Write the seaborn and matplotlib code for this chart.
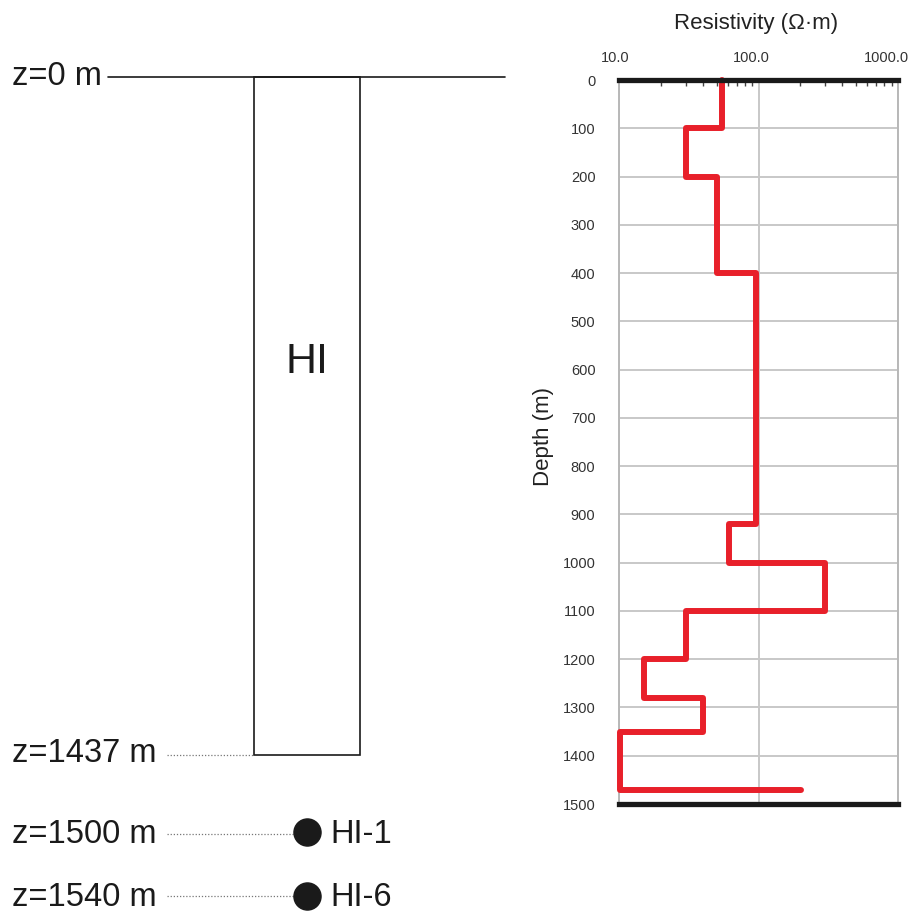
import numpy as np
import pandas as pd
import matplotlib
matplotlib.use("Agg")
import matplotlib.pyplot as plt
import matplotlib.transforms as mtransforms
from matplotlib.ticker import FixedLocator, FixedFormatter, NullFormatter, LogLocator
import seaborn as sns

# ---- resistivity model (layered, depth in m, resistivity in ohm-m) ----
layer_top = [0, 100, 200, 400, 920, 1000, 1100, 1200, 1280, 1350]
layer_bottom = [100, 200, 400, 920, 1000, 1100, 1200, 1280, 1350, 1470]
resistivity = [55, 30, 50, 96, 61, 300, 30, 15, 40, 10.2]
halfspace_resistivity = 203

depth_ticks = list(range(0, 1501, 100))
res_ticks = [10, 100, 1000]
res_tick_labels = ["10.0", "100.0", "1000.0"]

# ---- well schematic ----
well_name = "HI"
level_labels = ["z=0 m", "z=1437 m", "z=1500 m", "z=1540 m"]
sample_names = ["HI-1", "HI-6"]

sns.set_style("white")
plt.rcParams["font.family"] = ["Liberation Sans", "DejaVu Sans"]

W, H = 911, 913
fig = plt.figure(figsize=(W / 100, H / 100), dpi=100)

# schematic axes in pixel units (y down)
ax0 = fig.add_axes([0, 0, 1, 1], zorder=0)
ax0.set_xlim(0, W)
ax0.set_ylim(H, 0)
ax0.axis("off")

# surface line and borehole box
ax0.plot([108, 505], [77, 77], color="#1a1a1a", lw=1.2)
ax0.add_patch(plt.Rectangle((254, 77), 106, 678, fill=False,
                            edgecolor="#1a1a1a", lw=1.2))
ax0.text(307, 373, well_name, fontsize=31, ha="center", va="baseline",
         color="#1a1a1a")

txt_kw = dict(fontsize=23.5, ha="left", va="baseline", color="#1a1a1a")
ax0.text(12, 85, level_labels[0], **txt_kw)
ax0.text(12, 762, level_labels[1], **txt_kw)
ax0.text(12, 843, level_labels[2], **txt_kw)
ax0.text(12, 906, level_labels[3], **txt_kw)

dot_kw = dict(color="#777777", lw=0.9, ls=(0, (1, 1.5)))
ax0.plot([167, 254], [755, 755], **dot_kw)
ax0.plot([167, 294], [834, 834], **dot_kw)
ax0.plot([167, 294], [896, 896], **dot_kw)

ax0.plot([307, 307], [832.5, 896], ls="none", marker="o", ms=19.5,
         color="#1a1a1a")
ax0.text(330, 843, sample_names[0], **txt_kw)
ax0.text(330, 906, sample_names[1], **txt_kw)

# ---- resistivity log ----
x0, x1, y0, y1 = 619, 898, 80, 804
ax = fig.add_axes([x0 / W, 1 - y1 / H, (x1 - x0) / W, (y1 - y0) / H], zorder=2)

res_path, depth_path = [], []
for top, bot, r in zip(layer_top, layer_bottom, resistivity):
    res_path += [r, r]
    depth_path += [top, bot]
res_path.append(halfspace_resistivity)
depth_path.append(layer_bottom[-1])
df = pd.DataFrame({"resistivity": res_path, "depth": depth_path})

sns.lineplot(data=df, x="resistivity", y="depth", sort=False, estimator=None,
             color="#e8202a", lw=4.3, ax=ax, clip_on=False, zorder=5)

ax.set_xscale("log")
ax.set_xlim(10, 1000)
ax.set_ylim(1500, 0)

ax.xaxis.tick_top()
ax.xaxis.set_major_locator(FixedLocator(res_ticks))
ax.xaxis.set_major_formatter(FixedFormatter(res_tick_labels))
ax.xaxis.set_minor_locator(LogLocator(base=10, subs=np.arange(2, 10)))
ax.xaxis.set_minor_formatter(NullFormatter())
ax.tick_params(axis="x", which="major", length=0, pad=11, labelsize=10.5,
               labelcolor="#333333", top=True, bottom=False)
ax.tick_params(axis="x", which="minor", direction="in", length=4, width=1,
               color="#444444", top=True, bottom=False)
offset = mtransforms.ScaledTranslation(11 / 100, 0, fig.dpi_scale_trans)
for lab in ax.get_xticklabels():
    lab.set_horizontalalignment("right")
    lab.set_transform(lab.get_transform() + offset)

ax.set_yticks(depth_ticks)
ax.set_yticklabels([str(d) for d in depth_ticks])
ax.tick_params(axis="y", length=0, pad=17, labelsize=10.5, labelcolor="#333333")

ax.grid(True, which="major", color="#c8c8c8", lw=1.4)
ax.set_axisbelow(True)
for side in ["left", "right"]:
    ax.spines[side].set_color("#b8b8b8")
    ax.spines[side].set_linewidth(1.4)
for side in ["top", "bottom"]:
    ax.spines[side].set_color("#1a1a1a")
    ax.spines[side].set_linewidth(3.8)
    ax.spines[side].set_zorder(6)

ax.set_xlabel("")
ax.set_ylabel("")
ax.text(0.491, 1.078, "Resistivity (\u03a9\u00b7m)", transform=ax.transAxes,
        fontsize=16, ha="center", va="center", color="#222222")
ax.text(-0.272, 0.507, "Depth (m)", transform=ax.transAxes, rotation=90,
        fontsize=16, ha="center", va="center", color="#222222")

fig.savefig("out.png", dpi=100, facecolor="white")
